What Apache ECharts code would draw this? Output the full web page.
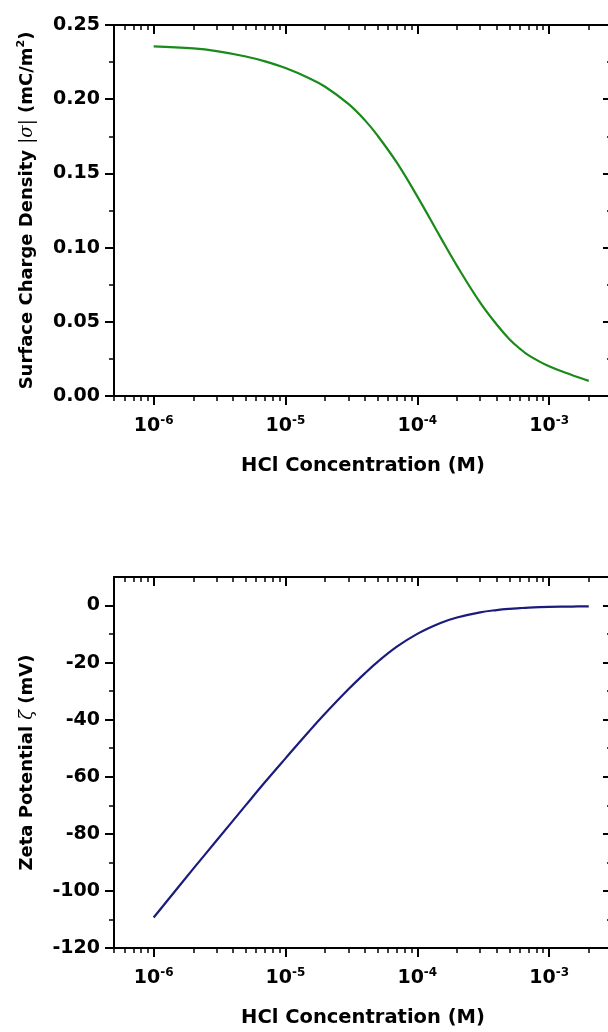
<!DOCTYPE html>
<html><head><meta charset="utf-8">
<script src="https://cdn.jsdelivr.net/npm/echarts@6/dist/echarts.min.js"></script>
<style>html,body{margin:0;padding:0;background:#fff}#c{width:608px;height:1032px}</style>
</head><body><div id="c"></div>
<script>
// ---- data ----
const xConc = [1e-6, 2e-6, 3e-6, 5e-6, 7e-6, 1e-5, 1.5e-5, 2e-5, 3e-5, 4e-5, 5e-5, 7e-5, 1e-4, 1.5e-4, 2e-4, 3e-4, 4e-4, 5e-4, 6e-4, 7e-4, 1e-3, 1.5e-3, 2e-3];
const sigma = [0.2356, 0.2342, 0.2324, 0.2288, 0.2255, 0.2210, 0.2143, 0.2084, 0.1968, 0.1859, 0.1754, 0.1572, 0.1345, 0.1069, 0.0877, 0.0629, 0.0482, 0.0383, 0.0319, 0.0274, 0.0200, 0.0140, 0.0102];
const zeta = [-109.3, -92.2, -82.35, -69.95, -61.85, -53.55, -44.23, -37.85, -29.36, -23.77, -19.74, -14.43, -9.92, -6.12, -4.19, -2.37, -1.58, -1.15, -0.91, -0.74, -0.50, -0.35, -0.28];

const xRange = [5e-7, 3e-3];
const sigmaRange = [0, 0.25];
const zetaRange = [-120, 10];
const xMajorTicks = [1e-6, 1e-5, 1e-4, 1e-3];
const xMinorTicks = [5e-7, 6e-7, 7e-7, 8e-7, 9e-7,
  2e-6, 3e-6, 4e-6, 5e-6, 6e-6, 7e-6, 8e-6, 9e-6,
  2e-5, 3e-5, 4e-5, 5e-5, 6e-5, 7e-5, 8e-5, 9e-5,
  2e-4, 3e-4, 4e-4, 5e-4, 6e-4, 7e-4, 8e-4, 9e-4,
  2e-3, 3e-3];
const sigmaMajorTicks = [0, 0.05, 0.10, 0.15, 0.20, 0.25];
const sigmaMinorTicks = [0.025, 0.075, 0.125, 0.175, 0.225];
const zetaMajorTicks = [-120, -100, -80, -60, -40, -20, 0];
const zetaMinorTicks = [-110, -90, -70, -50, -30, -10];

const xTitle = 'HCl Concentration (M)';
const sigmaTitle = '{t|Surface Charge Density }{g||σ|}{t| (mC/m}{p|2}{t|)}';
const zetaTitle = '{t|Zeta Potential }{g|ζ}{t| (mV)}';

// ---- styling ----
const F = 'DejaVu Sans';
const BLACK = '#000';
const base = { fontFamily: F, fontWeight: 'bold', color: BLACK };

function xAxesFor(g) {
  const common = { gridIndex: g, type: 'log', logBase: 10, min: xRange[0], max: xRange[1], splitLine: { show: false }, minorTick: { show: false } };
  return [
    Object.assign({}, common, {
      position: 'bottom',
      axisLine: { show: true, onZero: false, lineStyle: { color: BLACK, width: 2 } },
      axisTick: { show: true, length: 9, customValues: xMajorTicks, lineStyle: { color: BLACK, width: 2 } },
      axisLabel: {
        customValues: xMajorTicks, margin: 19,
        formatter: v => '{b|10}{s|' + Math.round(Math.log10(v)) + '}',
        rich: {
          b: Object.assign({}, base, { fontSize: 19, lineHeight: 22 }),
          s: Object.assign({}, base, { fontSize: 12, lineHeight: 8, verticalAlign: 'top' })
        }
      },
      name: xTitle, nameLocation: 'middle', nameGap: 59,
      nameTextStyle: Object.assign({}, base, { fontSize: 19.5, lineHeight: 22 })
    }),
    Object.assign({}, common, {
      position: 'bottom',
      axisLine: { show: false, onZero: false },
      axisTick: { show: true, length: 5, customValues: xMinorTicks, lineStyle: { color: BLACK, width: 1.5 } },
      axisLabel: { show: false }
    }),
    Object.assign({}, common, {
      position: 'top',
      axisLine: { show: true, onZero: false, lineStyle: { color: BLACK, width: 2 } },
      axisTick: { show: true, inside: true, length: 9, customValues: xMajorTicks, lineStyle: { color: BLACK, width: 2 } },
      axisLabel: { show: false }
    }),
    Object.assign({}, common, {
      position: 'top',
      axisLine: { show: false, onZero: false },
      axisTick: { show: true, inside: true, length: 5, customValues: xMinorTicks, lineStyle: { color: BLACK, width: 1.5 } },
      axisLabel: { show: false }
    })
  ];
}

function yAxesFor(g, range, major, minor, title, fmt) {
  const common = { gridIndex: g, type: 'value', min: range[0], max: range[1], splitLine: { show: false }, minorTick: { show: false } };
  return [
    Object.assign({}, common, {
      position: 'left',
      axisLine: { show: true, onZero: false, lineStyle: { color: BLACK, width: 2 } },
      axisTick: { show: true, length: 9, customValues: major, lineStyle: { color: BLACK, width: 2 } },
      axisLabel: Object.assign({}, base, { customValues: major, margin: 14, fontSize: 19, formatter: fmt }),
      name: title, nameLocation: 'middle', nameRotate: 90, nameGap: 76,
      nameTextStyle: {
        rich: {
          t: Object.assign({}, base, { fontSize: 18, lineHeight: 22 }),
          g: { fontFamily: 'DejaVu Serif', fontWeight: 'normal', fontStyle: 'italic', fontSize: 18, lineHeight: 22, color: BLACK },
          p: Object.assign({}, base, { fontSize: 11, lineHeight: 10, verticalAlign: 'top' })
        }
      }
    }),
    Object.assign({}, common, {
      position: 'left',
      axisLine: { show: false, onZero: false },
      axisTick: { show: true, length: 5, customValues: minor, lineStyle: { color: BLACK, width: 1.5 } },
      axisLabel: { show: false }
    }),
    Object.assign({}, common, {
      position: 'right',
      axisLine: { show: true, onZero: false, lineStyle: { color: BLACK, width: 2 } },
      axisTick: { show: true, inside: true, length: 9, customValues: major, lineStyle: { color: BLACK, width: 2 } },
      axisLabel: { show: false }
    }),
    Object.assign({}, common, {
      position: 'right',
      axisLine: { show: false, onZero: false },
      axisTick: { show: true, inside: true, length: 5, customValues: minor, lineStyle: { color: BLACK, width: 1.5 } },
      axisLabel: { show: false }
    })
  ];
}

const chart = echarts.init(document.getElementById('c'), null, { renderer: 'canvas' });
chart.setOption({
  animation: false,
  backgroundColor: '#fff',
  grid: [
    { left: 114, top: 25, width: 498, height: 371, outerBoundsMode: 'none', containLabel: false },
    { left: 114, top: 577, width: 498, height: 371, outerBoundsMode: 'none', containLabel: false }
  ],
  xAxis: xAxesFor(0).concat(xAxesFor(1)),
  yAxis: yAxesFor(0, sigmaRange, sigmaMajorTicks, sigmaMinorTicks, sigmaTitle, v => v.toFixed(2))
    .concat(yAxesFor(1, zetaRange, zetaMajorTicks, zetaMinorTicks, zetaTitle, v => String(v))),
  series: [
    {
      type: 'line', xAxisIndex: 0, yAxisIndex: 0, smooth: 0.4, showSymbol: false,
      lineStyle: { color: '#1a8a1a', width: 2.2 }, itemStyle: { color: '#1a8a1a' },
      data: xConc.map((x, i) => [x, sigma[i]])
    },
    {
      type: 'line', xAxisIndex: 4, yAxisIndex: 4, smooth: 0.4, showSymbol: false,
      lineStyle: { color: '#1b1b7d', width: 2.2 }, itemStyle: { color: '#1b1b7d' },
      data: xConc.map((x, i) => [x, zeta[i]])
    }
  ]
});
</script></body></html>
